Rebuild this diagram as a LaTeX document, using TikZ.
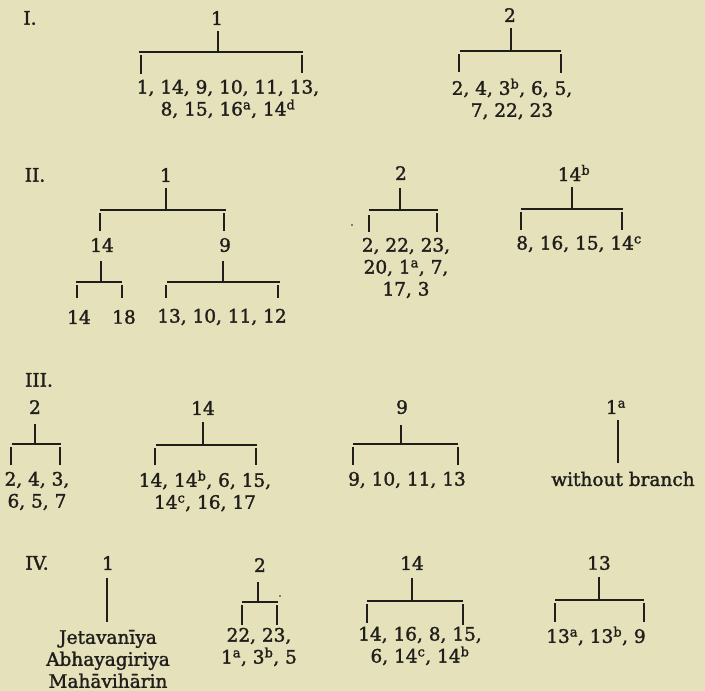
\documentclass[tikz,border=0pt]{standalone}
\usepackage{fontspec}
\setmainfont[FakeBold=1.6]{DejaVu Serif}
\definecolor{paper}{RGB}{229,225,187}
\definecolor{ink}{RGB}{32,30,27}
\tikzset{
  lbl/.style={font=\fontsize{18.5}{22}\selectfont, inner sep=0pt, text=ink, align=center},
  br/.style={draw=ink, line width=1.3pt}
}
\begin{document}
\begin{tikzpicture}[x=1pt,y=-1pt]
\fill[paper] (0,0) rectangle (705,691);
\useasboundingbox (0,0) rectangle (705,691);

% ---------- I ----------
\node[lbl] (lI) at (30,18) {I.};
\node[lbl] (I1) at (217,18) {1};
\coordinate (I1s) at (218,31); \coordinate (I1m) at (218,52);
\coordinate (I1l) at (139,52); \coordinate (I1r) at (303,52);
\coordinate (I1la) at (141,55); \coordinate (I1lb) at (141,74);
\coordinate (I1ra) at (302,55); \coordinate (I1rb) at (302,73);
\draw[br] (I1s) -- (I1m); \draw[br] (I1l) -- (I1r);
\draw[br] (I1la) -- (I1lb); \draw[br] (I1ra) -- (I1rb);
\node[lbl] (I1c) at (228,99) {1, 14, 9, 10, 11, 13,\\8, 15, 16\textsuperscript{a}, 14\textsuperscript{d}};

\node[lbl] (I2) at (510,15) {2};
\coordinate (I2s) at (511,28); \coordinate (I2m) at (511,51);
\coordinate (I2l) at (460,51); \coordinate (I2r) at (561,51);
\coordinate (I2la) at (459,54); \coordinate (I2lb) at (459,72);
\coordinate (I2ra) at (561,54); \coordinate (I2rb) at (561,73);
\draw[br] (I2s) -- (I2m); \draw[br] (I2l) -- (I2r);
\draw[br] (I2la) -- (I2lb); \draw[br] (I2ra) -- (I2rb);
\node[lbl] (I2c) at (512,99) {2, 4, 3\textsuperscript{b}, 6, 5,\\7, 22, 23};

% ---------- II ----------
\node[lbl] (lII) at (35,175) {II.};
\node[lbl] (II1) at (166,175) {1};
\coordinate (II1s) at (166,188); \coordinate (II1m) at (166,210);
\coordinate (II1l) at (100,210); \coordinate (II1r) at (226,210);
\coordinate (II1la) at (100,213); \coordinate (II1lb) at (100,231);
\coordinate (II1ra) at (224,213); \coordinate (II1rb) at (224,231);
\draw[br] (II1s) -- (II1m); \draw[br] (II1l) -- (II1r);
\draw[br] (II1la) -- (II1lb); \draw[br] (II1ra) -- (II1rb);
\node[lbl] (II14) at (102,245) {14};
\node[lbl] (II9) at (225,245) {9};
\coordinate (II14s) at (101,261); \coordinate (II14m) at (101,282);
\coordinate (II14l) at (76,282); \coordinate (II14r) at (122,282);
\coordinate (II14la) at (77,285); \coordinate (II14lb) at (77,298);
\coordinate (II14ra) at (122,285); \coordinate (II14rb) at (122,298);
\draw[br] (II14s) -- (II14m); \draw[br] (II14l) -- (II14r);
\draw[br] (II14la) -- (II14lb); \draw[br] (II14ra) -- (II14rb);
\coordinate (II9s) at (223,261); \coordinate (II9m) at (223,282);
\coordinate (II9l) at (167,282); \coordinate (II9r) at (280,282);
\coordinate (II9la) at (166,285); \coordinate (II9lb) at (166,298);
\coordinate (II9ra) at (278,285); \coordinate (II9rb) at (278,298);
\draw[br] (II9s) -- (II9m); \draw[br] (II9l) -- (II9r);
\draw[br] (II9la) -- (II9lb); \draw[br] (II9ra) -- (II9rb);
\node[lbl] (II14a) at (79,317) {14};
\node[lbl] (II18) at (124,317) {18};
\node[lbl] (II9c) at (222,317) {13, 10, 11, 12};

\node[lbl] (II2) at (401,173) {2};
\coordinate (II2s) at (400,188); \coordinate (II2m) at (400,210);
\coordinate (II2l) at (369,210); \coordinate (II2r) at (438,210);
\coordinate (II2la) at (369,215); \coordinate (II2lb) at (369,232);
\coordinate (II2ra) at (437,213); \coordinate (II2rb) at (437,232);
\draw[br] (II2s) -- (II2m); \draw[br] (II2l) -- (II2r);
\draw[br] (II2la) -- (II2lb); \draw[br] (II2ra) -- (II2rb);
\fill[ink] (352,225) circle (0.9);
\node[lbl] (II2c) at (406,268) {2, 22, 23,\\20, 1\textsuperscript{a}, 7,\\17, 3};

\node[lbl] (II14b) at (574,173) {14\textsuperscript{b}};
\coordinate (II14bs) at (572,187); \coordinate (II14bm) at (572,209);
\coordinate (II14bl) at (521,209); \coordinate (II14br) at (623,209);
\coordinate (II14bla) at (521,212); \coordinate (II14blb) at (521,230);
\coordinate (II14bra) at (622,212); \coordinate (II14brb) at (622,230);
\draw[br] (II14bs) -- (II14bm); \draw[br] (II14bl) -- (II14br);
\draw[br] (II14bla) -- (II14blb); \draw[br] (II14bra) -- (II14brb);
\node[lbl] (II14bc) at (579,244) {8, 16, 15, 14\textsuperscript{c}};

% ---------- III ----------
\node[lbl] (lIII) at (39,380) {III.};
\node[lbl] (III2) at (35,407) {2};
\coordinate (III2s) at (35,424); \coordinate (III2m) at (35,444);
\coordinate (III2l) at (12,444); \coordinate (III2r) at (61,444);
\coordinate (III2la) at (11,447); \coordinate (III2lb) at (11,465);
\coordinate (III2ra) at (60,447); \coordinate (III2rb) at (60,465);
\draw[br] (III2s) -- (III2m); \draw[br] (III2l) -- (III2r);
\draw[br] (III2la) -- (III2lb); \draw[br] (III2ra) -- (III2rb);
\node[lbl] (III2c) at (37,491) {2, 4, 3,\\6, 5, 7};

\node[lbl] (III14) at (203,408) {14};
\coordinate (III14s) at (203,422); \coordinate (III14m) at (203,445);
\coordinate (III14l) at (156,445); \coordinate (III14r) at (257,445);
\coordinate (III14la) at (155,448); \coordinate (III14lb) at (155,465);
\coordinate (III14ra) at (256,448); \coordinate (III14rb) at (256,465);
\draw[br] (III14s) -- (III14m); \draw[br] (III14l) -- (III14r);
\draw[br] (III14la) -- (III14lb); \draw[br] (III14ra) -- (III14rb);
\node[lbl] (III14c) at (205,491) {14, 14\textsuperscript{b}, 6, 15,\\14\textsuperscript{c}, 16, 17};

\node[lbl] (III9) at (402,407) {9};
\coordinate (III9s) at (401,425); \coordinate (III9m) at (401,444);
\coordinate (III9l) at (353,444); \coordinate (III9r) at (458,444);
\coordinate (III9la) at (353,447); \coordinate (III9lb) at (353,465);
\coordinate (III9ra) at (458,447); \coordinate (III9rb) at (458,465);
\draw[br] (III9s) -- (III9m); \draw[br] (III9l) -- (III9r);
\draw[br] (III9la) -- (III9lb); \draw[br] (III9ra) -- (III9rb);
\node[lbl] (III9c) at (407,480) {9, 10, 11, 13};

\node[lbl] (III1a) at (616,407) {1\textsuperscript{a}};
\coordinate (III1as) at (618,420); \coordinate (III1ab) at (618,463);
\draw[br] (III1as) -- (III1ab);
\node[lbl] (III1ac) at (623,479) {without branch};

% ---------- IV ----------
\node[lbl] (lIV) at (37,563) {IV.};
\node[lbl] (IV1) at (108,563) {1};
\coordinate (IV1s) at (107,578); \coordinate (IV1b) at (107,622);
\draw[br] (IV1s) -- (IV1b);
\node[lbl] (IV1c) at (108,659) {Jetavanīya\\Abhayagiriya\\Mahāvihārin};

\node[lbl] (IV2) at (260,565) {2};
\coordinate (IV2s) at (258,582); \coordinate (IV2m) at (258,602);
\coordinate (IV2l) at (242,602); \coordinate (IV2r) at (278,602);
\coordinate (IV2la) at (242,605); \coordinate (IV2lb) at (242,625);
\coordinate (IV2ra) at (277,605); \coordinate (IV2rb) at (277,625);
\draw[br] (IV2s) -- (IV2m); \draw[br] (IV2l) -- (IV2r);
\draw[br] (IV2la) -- (IV2lb); \draw[br] (IV2ra) -- (IV2rb);
\fill[ink] (280,596) circle (0.9);
\node[lbl] (IV2c) at (259,647) {22, 23,\\1\textsuperscript{a}, 3\textsuperscript{b}, 5};

\node[lbl] (IV14) at (412,563) {14};
\coordinate (IV14s) at (412,578); \coordinate (IV14m) at (412,601);
\coordinate (IV14l) at (367,601); \coordinate (IV14r) at (463,601);
\coordinate (IV14la) at (367,604); \coordinate (IV14lb) at (367,623);
\coordinate (IV14ra) at (463,604); \coordinate (IV14rb) at (463,625);
\draw[br] (IV14s) -- (IV14m); \draw[br] (IV14l) -- (IV14r);
\draw[br] (IV14la) -- (IV14lb); \draw[br] (IV14ra) -- (IV14rb);
\node[lbl] (IV14c) at (420,646) {14, 16, 8, 15,\\6, 14\textsuperscript{c}, 14\textsuperscript{b}};

\node[lbl] (IV13) at (599,563) {13};
\coordinate (IV13s) at (599,577); \coordinate (IV13m) at (599,600);
\coordinate (IV13l) at (555,600); \coordinate (IV13r) at (644,600);
\coordinate (IV13la) at (555,603); \coordinate (IV13lb) at (555,622);
\coordinate (IV13ra) at (644,603); \coordinate (IV13rb) at (644,622);
\draw[br] (IV13s) -- (IV13m); \draw[br] (IV13l) -- (IV13r);
\draw[br] (IV13la) -- (IV13lb); \draw[br] (IV13ra) -- (IV13rb);
\node[lbl] (IV13c) at (596,636) {13\textsuperscript{a}, 13\textsuperscript{b}, 9};
\end{tikzpicture}
\end{document}
